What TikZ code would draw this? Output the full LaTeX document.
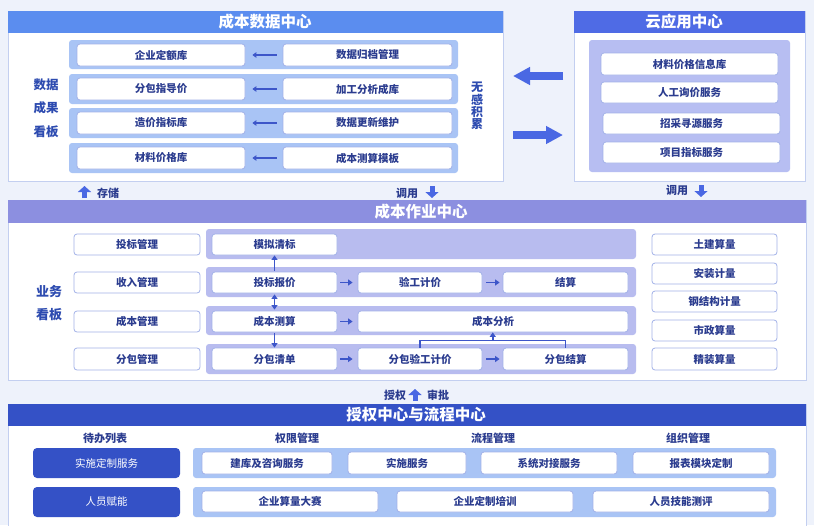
\documentclass[tikz,border=0pt]{standalone}
\usepackage{fontspec}
\setmainfont{Noto Sans CJK SC}
\usetikzlibrary{arrows.meta,calc}
\definecolor{bgc}{HTML}{EEF2FB}
\definecolor{hdrA}{HTML}{5B8DEF}
\definecolor{hdrB}{HTML}{4F6BE5}
\definecolor{hdrC}{HTML}{8C8FE0}
\definecolor{hdrD}{HTML}{3451C6}
\definecolor{rowA}{HTML}{A9C4F5}
\definecolor{rowB}{HTML}{B7BEF2}
\definecolor{rowC}{HTML}{B8BCEF}
\definecolor{boxline}{HTML}{A3B2E8}
\definecolor{panelline}{HTML}{C3CFF0}
\definecolor{txt}{HTML}{2B3C8F}
\definecolor{lbl}{HTML}{2D4BB0}
\definecolor{arr}{HTML}{3D56C9}
\definecolor{bigarr}{HTML}{4A68E3}
\newcommand\bx[7][]{\node[box,#1,minimum width={(#5-#3)*1pt},minimum height={(#6-#4)*1pt}] (#2) at ({(#3+#5)/2},{(#4+#6)/2}) {#7};}
\begin{document}
\begin{tikzpicture}[x=1pt,y=-1pt,
  box/.style={draw=boxline,fill=white,rounded corners=3pt,line width=0.8pt,inner sep=0pt,
    text=txt,font=\fontsize{10.5}{12}\selectfont\bfseries},
  darkbox/.style={box,draw=none,fill=hdrD,text=white,rounded corners=4pt,font=\fontsize{10.5}{12}\selectfont},
  panel/.style={draw=panelline,fill=white,line width=0.8pt},
  title/.style={text=white,font=\fontsize{15.5}{17}\selectfont\bfseries,inner sep=0pt},
  label/.style={text=lbl,font=\fontsize{12.5}{23.5}\selectfont\bfseries,align=center,inner sep=0pt},
  small/.style={text=txt,font=\fontsize{11}{13}\selectfont\bfseries,inner sep=0pt},
  sarrow/.style={draw=arr,line width=1.3pt,-{Triangle[length=4pt,width=5.5pt]}},
  sa/.style={draw=arr,line width=1.5pt,-{Triangle[length=4.5pt,width=6pt]}},
  sline/.style={draw=arr,line width=1.3pt},
  bigarrow/.style={draw=bigarr,line width=8pt,-{Triangle[length=17pt,width=17pt]}},
  blockarrow/.style={draw=bigarr,line width=5pt,-{Triangle[length=6pt,width=13pt]}}]
\fill[bgc] (0,0) rectangle (814,525);
\useasboundingbox (0,0) rectangle (814,525);

% ---------------- 成本数据中心 ----------------
\draw[panel] (8,11) rectangle (503,181);
\fill[hdrA] (8,11) rectangle (503,33);
\node[title] (t1) at (265,22) {成本数据中心};
\foreach \a/\b in {40/69,74/104,108/138,143/173}
  \fill[rowA,rounded corners=3pt] (69,\a) rectangle (458,\b);
\bx{l1}{77}{44}{245}{66}{企业定额库}
\bx{r1}{283}{44}{452}{66}{数据归档管理}
\bx{l2}{77}{78}{245}{100}{分包指导价}
\bx{r2}{283}{78}{452}{100}{加工分析成库}
\bx{l3}{77}{112}{245}{134}{造价指标库}
\bx{r3}{283}{112}{452}{134}{数据更新维护}
\bx{l4}{77}{147}{245}{169}{材料价格库}
\bx{r4}{283}{147}{452}{169}{成本测算模板}
\foreach \i in {1,2,3,4}
  \draw[sarrow,shorten <=6pt,shorten >=7pt] (r\i.west) -- (l\i.east);
\node[label] (dl) at (46,108) {数据\\成果\\看板};
\node[label,font=\fontsize{12}{12.3}\selectfont\bfseries] (wg) at (477,106) {无\\感\\积\\累};

% ---------------- 云应用中心 ----------------
\draw[panel] (574,11) rectangle (805,181);
\fill[hdrB] (574,11) rectangle (805,33);
\node[title] (t2) at (684,22) {云应用中心};
\fill[rowB,rounded corners=3pt] (589,40) rectangle (790,172);
\bx{c1}{601}{53}{778}{75}{材料价格信息库}
\bx{c2}{601}{82}{778}{103}{人工询价服务}
\bx{c3}{603}{113}{780}{134}{招采寻源服务}
\bx{c4}{603}{142}{780}{163}{项目指标服务}
\draw[bigarrow] (563,76) -- (513,76);
\draw[bigarrow] (513,135) -- (563,135);

% ---------------- between top and middle ----------------
\draw[blockarrow] (84.5,198) -- (84.5,186);
\node[small] (cc) at (108,193) {存储};
\node[small] (dy1) at (407,193) {调用};
\draw[blockarrow] (432,186) -- (432,198);
\node[small] (dy2) at (677,190) {调用};
\draw[blockarrow] (701,185) -- (701,197);

% ---------------- 成本作业中心 ----------------
\draw[panel] (8,200) rectangle (806,380);
\fill[hdrC] (8,200) rectangle (806,223);
\node[title] (t3) at (421,211.5) {成本作业中心};
\node[label,font=\fontsize{13}{23}\selectfont\bfseries] (yw) at (49,303.5) {业务\\看板};
\bx{m1}{74}{234}{200}{255}{投标管理}
\bx{m2}{74}{272}{200}{293}{收入管理}
\bx{m3}{74}{311}{200}{332}{成本管理}
\bx{m4}{74}{348}{200}{370}{分包管理}
\foreach \a/\b in {229/259,267/297,306/335,344/374}
  \fill[rowC,rounded corners=3pt] (206,\a) rectangle (636,\b);
\bx{mn}{212}{234}{337}{255}{模拟清标}
\bx{tb}{212}{272}{337}{293}{投标报价}
\bx{yg}{358}{272}{482}{293}{验工计价}
\bx{js}{503}{272}{628}{293}{结算}
\bx{cs}{212}{311}{337}{332}{成本测算}
\bx{fx}{358}{311}{628}{332}{成本分析}
\bx{fq}{212}{348}{337}{370}{分包清单}
\bx{fb}{358}{348}{482}{370}{分包验工计价}
\bx{fj}{503}{348}{628}{370}{分包结算}
\bx{s1}{652}{234}{777}{255}{土建算量}
\bx{s2}{652}{263}{777}{284}{安装计量}
\bx{s3}{652}{291}{777}{312}{钢结构计量}
\bx{s4}{652}{320}{777}{341}{市政算量}
\bx{s5}{652}{348}{777}{370}{精装算量}
\draw[sa,shorten <=3pt,shorten >=5pt] (tb.east) -- (yg.west);
\draw[sa,shorten <=4pt,shorten >=3pt] (yg.east) -- (js.west);
\draw[sa,shorten <=3pt,shorten >=5pt] (cs.east) -- (fx.west);
\draw[sa,shorten <=3pt,shorten >=5pt] (fq.east) -- (fb.west);
\draw[sa,shorten <=4pt,shorten >=3pt] (fb.east) -- (fj.west);
\draw[sa,shorten <=1pt] (tb.north) -- (mn.south);
\draw[sa,{Triangle[length=4.5pt,width=6pt]}-{Triangle[length=4.5pt,width=6pt]},shorten <=1pt,shorten >=1pt] (tb.south) -- (cs.north);
\draw[sa,shorten <=1pt] (cs.south) -- (fq.north);
\draw[sline] (fb.north) -- ++(0,-7) -| (fj.north);
\coordinate (bm) at ($(fb.north)!0.5!(fj.north)+(0,-7)$);
\draw[sa] (bm) -- (bm |- fx.south);

% ---------------- 授权 审批 ----------------
\node[small] (sq) at (395,395) {授权};
\draw[blockarrow] (415,401) -- (415,389);
\node[small] (sp) at (438,395) {审批};

% ---------------- 授权中心与流程中心 ----------------
\draw[panel] (8,404) rectangle (806,535);
\fill[hdrD] (8,404) rectangle (806,426);
\node[title] (t4) at (416,415) {授权中心与流程中心};
\node[small] (h1) at (105,438) {待办列表};
\node[small] (h2) at (297,438) {权限管理};
\node[small] (h3) at (493,438) {流程管理};
\node[small] (h4) at (688,438) {组织管理};
\bx[darkbox]{d1}{33}{448}{180}{478}{实施定制服务}
\bx[darkbox]{d2}{33}{487}{180}{517}{人员赋能}
\fill[rowA,rounded corners=3pt] (193,448) rectangle (776,478);
\fill[rowA,rounded corners=3pt] (193,487) rectangle (776,517);
\bx{b1}{202}{452}{332}{474}{建库及咨询服务}
\bx{b2}{348}{452}{466}{474}{实施服务}
\bx{b3}{481}{452}{617}{474}{系统对接服务}
\bx{b4}{633}{452}{769}{474}{报表模块定制}
\bx{e1}{202}{491}{378}{512}{企业算量大赛}
\bx{e2}{397}{491}{573}{512}{企业定制培训}
\bx{e3}{593}{491}{769}{512}{人员技能测评}
\end{tikzpicture}
\end{document}
